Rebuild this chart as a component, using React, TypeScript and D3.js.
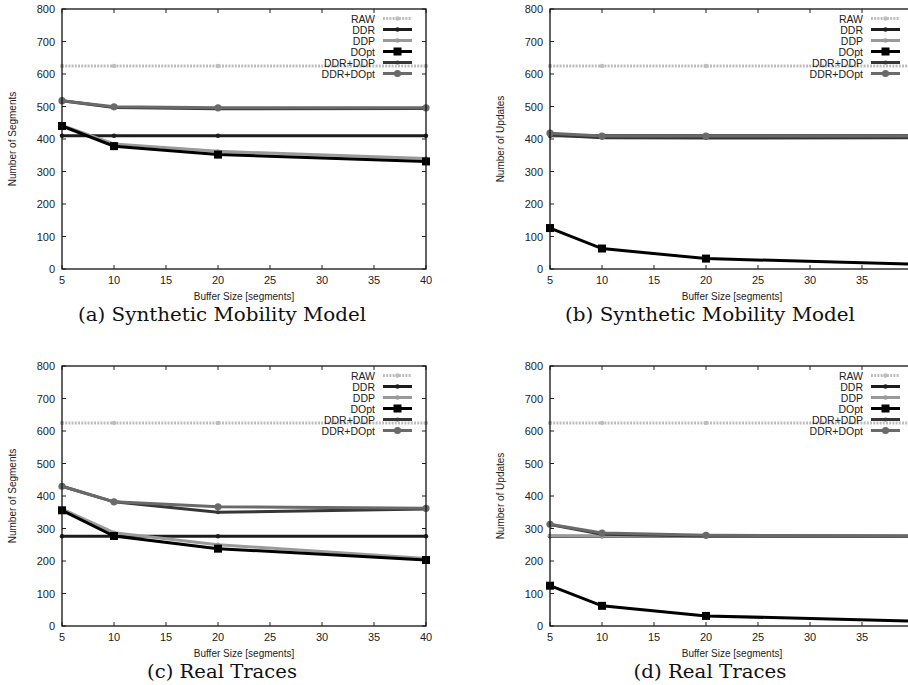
import React from "react";
import * as d3 from "d3";

const xValues = [5, 10, 20, 40];
const xTicks = [5, 10, 15, 20, 25, 30, 35, 40];
const yTicks = [0, 100, 200, 300, 400, 500, 600, 700, 800];
const seriesNames = ["RAW", "DDR", "DDP", "DOpt", "DDR+DDP", "DDR+DOpt"];

const segSynthetic = {
  RAW: [625, 625, 625, 625],
  DDR: [410, 410, 410, 410],
  DDP: [442, 385, 362, 340],
  DOpt: [440, 378, 352, 331],
  "DDR+DDP": [518, 497, 493, 494],
  "DDR+DOpt": [518, 499, 496, 496],
};
const updSynthetic = {
  RAW: [625, 625, 625, 625],
  DDR: [410, 410, 410, 410],
  DDP: [412, 407, 406, 407],
  DOpt: [126, 63, 32, 15],
  "DDR+DDP": [412, 404, 403, 404],
  "DDR+DOpt": [418, 409, 409, 409],
};
const segReal = {
  RAW: [625, 625, 625, 625],
  DDR: [276, 276, 276, 276],
  DDP: [360, 287, 250, 208],
  DOpt: [356, 277, 238, 203],
  "DDR+DDP": [430, 382, 350, 360],
  "DDR+DOpt": [430, 382, 367, 362],
};
const updReal = {
  RAW: [625, 625, 625, 625],
  DDR: [276, 276, 276, 276],
  DDP: [278, 277, 276, 276],
  DOpt: [124, 62, 31, 15],
  "DDR+DDP": [312, 282, 277, 276],
  "DDR+DOpt": [313, 286, 279, 277],
};

const panels = [
  { data: segSynthetic, yLabel: "Number of Segments", caption: "(a) Synthetic Mobility Model", capW: 288, left: 62, top: 9 },
  { data: updSynthetic, yLabel: "Number of Updates", caption: "(b) Synthetic Mobility Model", capW: 290, left: 550, top: 9 },
  { data: segReal, yLabel: "Number of Segments", caption: "(c) Real Traces", capW: 150, left: 62, top: 366 },
  { data: updReal, yLabel: "Number of Updates", caption: "(d) Real Traces", capW: 153, left: 550, top: 366 },
];

const styles: Record<string, { color: string; dash?: string; marker: string; size: number }> = {
  RAW: { color: "#bdbdbd", dash: "2,1.2", marker: "dot", size: 2.2 },
  DDR: { color: "#1c1c1c", marker: "dot", size: 2.2 },
  DDP: { color: "#9a9a9a", marker: "dot", size: 2.2 },
  DOpt: { color: "#000000", marker: "square", size: 8 },
  "DDR+DDP": { color: "#363636", marker: "dot", size: 2 },
  "DDR+DOpt": { color: "#6a6a6a", marker: "circle", size: 3.6 },
};

const W = 364;
const H = 260;
const PAGE_W = 908;
const sans = "'Liberation Sans', Arial, Helvetica, sans-serif";
const serif = "'DejaVu Serif', 'Liberation Serif', serif";

function Marker({ kind, x, y, color, size }: { kind: string; x: number; y: number; color: string; size: number }) {
  if (kind === "square") return <rect x={x - size / 2} y={y - size / 2} width={size} height={size} fill={color} />;
  return <circle cx={x} cy={y} r={size} fill={color} />;
}

function Panel({ p }: { p: (typeof panels)[number] }) {
  const x = d3.scaleLinear().domain([5, 40]).range([0, W]);
  const y = d3.scaleLinear().domain([0, 800]).range([H, 0]);
  const line = d3
    .line<number>()
    .x((_, i) => x(xValues[i]))
    .y((d) => y(d));
  const capCenter = 222 - 62;
  return (
    <g transform={`translate(${p.left},${p.top})`}>
      {yTicks.map((t) => (
        <g key={"y" + t}>
          <line x1={0} x2={4} y1={y(t)} y2={y(t)} stroke="#222" strokeWidth={1} />
          <line x1={W} x2={W - 4} y1={y(t)} y2={y(t)} stroke="#222" strokeWidth={1} />
          <text x={-7} y={y(t) + 4} fontSize={11} textAnchor="end" fontFamily={sans} fill="#222">
            {t}
          </text>
        </g>
      ))}
      {xTicks.map((t) => (
        <g key={"x" + t}>
          <line x1={x(t)} x2={x(t)} y1={H} y2={H - 4} stroke="#222" strokeWidth={1} />
          <line x1={x(t)} x2={x(t)} y1={0} y2={4} stroke="#222" strokeWidth={1} />
          {p.left + x(t) + 7 <= PAGE_W && (
            <text x={x(t)} y={H + 15} fontSize={11} textAnchor="middle" fontFamily={sans} fill="#222">
              {t}
            </text>
          )}
        </g>
      ))}
      {seriesNames.map((name) => {
        const s = styles[name];
        const vals = (p.data as Record<string, number[]>)[name];
        return (
          <g key={name}>
            <path d={line(vals) || ""} fill="none" stroke={s.color} strokeWidth={3} strokeDasharray={s.dash} />
            {vals.map((v, i) => (
              <Marker key={i} kind={s.marker} x={x(xValues[i])} y={y(v)} color={s.color} size={s.size} />
            ))}
          </g>
        );
      })}
      {seriesNames.map((name, i) => {
        const s = styles[name];
        const ly = 9.5 + 11 * i;
        return (
          <g key={"leg" + name}>
            <text x={313} y={ly + 4} fontSize={10.5} textAnchor="end" fontFamily={sans} fill="#222">
              {name}
            </text>
            <line x1={321} x2={350} y1={ly} y2={ly} stroke={s.color} strokeWidth={3} strokeDasharray={s.dash} />
            <Marker kind={s.marker} x={335.5} y={ly} color={s.color} size={s.size} />
          </g>
        );
      })}
      <rect x={0} y={0} width={W} height={H} fill="none" stroke="#111" strokeWidth={1.3} />
      <text
        transform={`translate(${-46},${H / 2}) rotate(-90)`}
        fontSize={10}
        textAnchor="middle"
        fontFamily={sans}
        fill="#222"
      >
        {p.yLabel}
      </text>
      <text x={W / 2} y={H + 31} fontSize={10} textAnchor="middle" fontFamily={sans} fill="#222">
        Buffer Size [segments]
      </text>
      <text
        x={capCenter}
        y={H + 52}
        fontSize={18}
        textAnchor="middle"
        fontFamily={serif}
        fill="#111"
        textLength={p.capW}
        lengthAdjust="spacingAndGlyphs"
      >
        {p.caption}
      </text>
    </g>
  );
}

export default function App() {
  return (
    <div style={{ position: "fixed", left: 0, top: 0, width: 908, height: 685, background: "#fff" }}>
      <svg width={908} height={685} viewBox="0 0 908 685">
        <rect x={0} y={0} width={908} height={685} fill="#fff" />
        {panels.map((p, i) => (
          <Panel key={i} p={p} />
        ))}
      </svg>
    </div>
  );
}
